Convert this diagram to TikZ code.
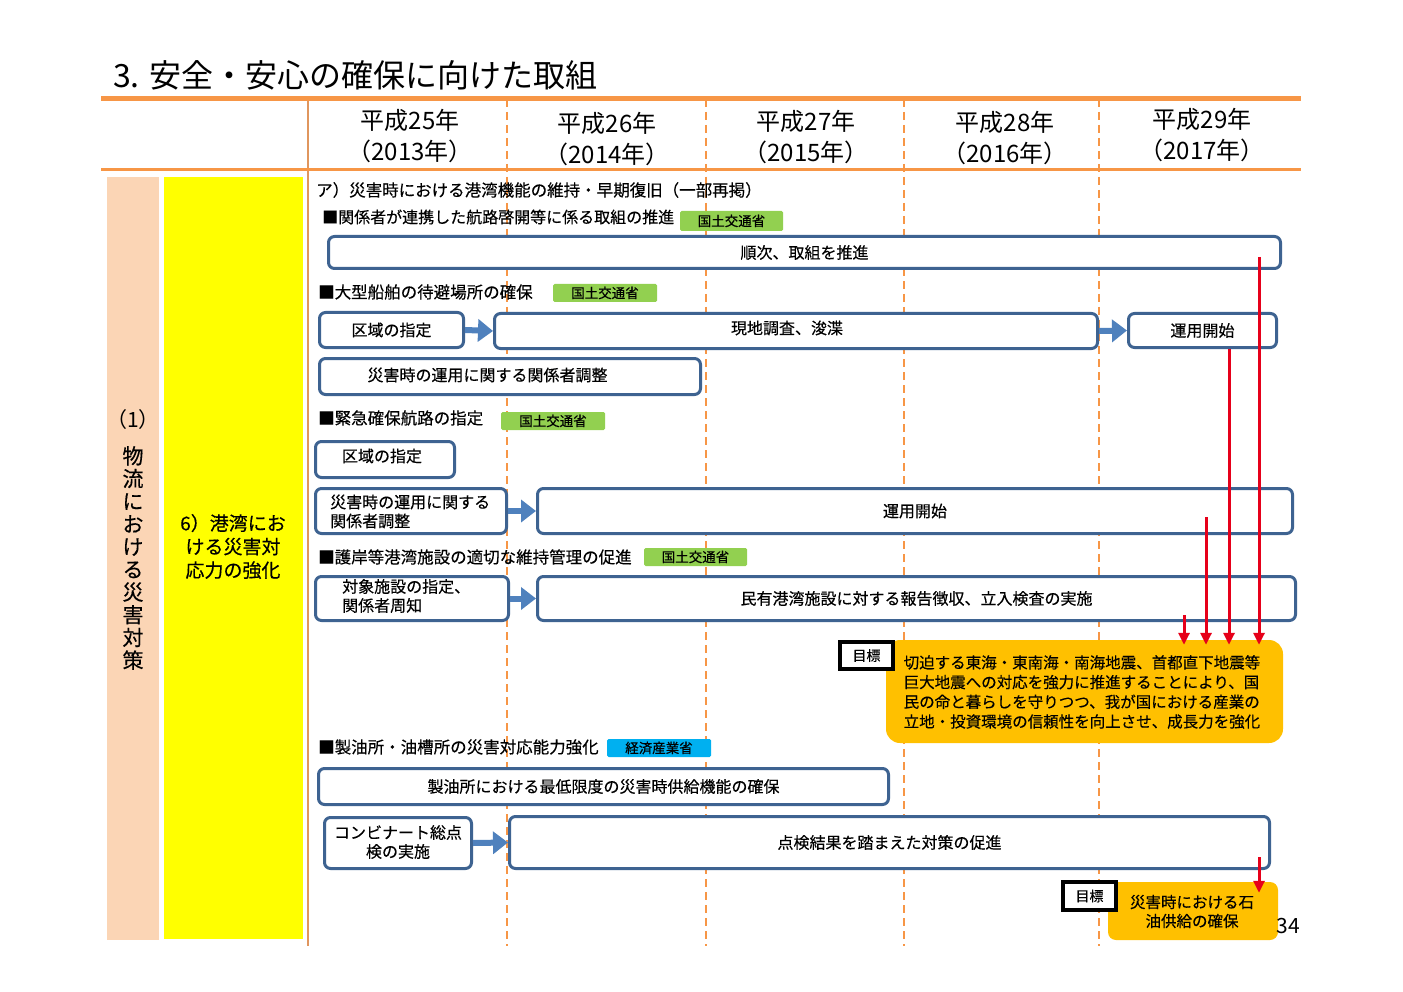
\documentclass[tikz,border=0pt]{standalone}
\usepackage{fontspec}
\setmainfont[FakeBold=0.35]{Noto Sans CJK JP}
\newfontfamily\titlefont{Noto Sans CJK JP}
\usetikzlibrary{arrows.meta,fit}
\definecolor{orl}{HTML}{F79646}
\definecolor{orv}{HTML}{E0965E}
\definecolor{peach}{HTML}{FBD5B5}
\definecolor{bxc}{HTML}{3E6391}
\definecolor{arc}{HTML}{4F81BD}
\definecolor{grn}{HTML}{92D050}
\definecolor{cyn}{HTML}{00B0F0}
\definecolor{gold}{HTML}{FFC000}
\definecolor{rd}{HTML}{E6001A}
\definecolor{ylw}{HTML}{FFFF00}
\newcommand\myfs[2]{\fontsize{#1pt}{#2pt}\selectfont}
\tikzset{
  bx/.style={draw=bxc, line width=3pt, rounded corners=6pt, fill=white, inner sep=0pt},
  bt/.style={inner sep=0pt, font=\myfs{16}{19}, text=black},
  sec/.style={inner sep=0pt, anchor=west, font=\myfs{16.5}{19}},
  tag/.style={inner sep=0pt, rounded corners=1.5pt, font=\myfs{13.5}{16}},
  barrow/.style={draw=arc, line width=6pt, -{Triangle[length=15pt,width=22pt]}},
  rarr/.style={draw=rd, line width=3pt, -{Triangle[length=12pt,width=11pt]}},
  goalbox/.style={fill=gold, inner sep=0pt},
  mokuhyo/.style={draw=black, line width=4pt, fill=white, inner sep=0pt, font=\myfs{14}{16}},
  yearhd/.style={inner sep=0pt, align=center, font=\titlefont\myfs{24}{31}},
  dline/.style={draw=orl, line width=2.5pt, dash pattern=on 8pt off 5pt}
}
\begin{document}
\begin{tikzpicture}[x=1pt,y=-1pt]
\useasboundingbox[fill=white] (0,0) rectangle (1403,992);
% title
\node[inner sep=0pt, anchor=west, font=\titlefont\myfs{32}{36}] (title) at (113,75) {3. 安全・安心の確保に向けた取組};
% grid lines
\draw[dline] (507,99) -- (507,946);
\draw[dline] (706,99) -- (706,946);
\draw[dline] (904,99) -- (904,946);
\draw[dline] (1099,99) -- (1099,946);
\draw[draw=orv, line width=2pt] (307.5,99) -- (307.5,946);
\draw[draw=orl, line width=5pt] (101,99) -- (1301,99);
\draw[draw=orl, line width=3pt] (101,169.5) -- (1301,169.5);
% year headers
\node[yearhd] (y25) at (410,136.5) {平成25年\\（2013年）};
\node[yearhd] (y26) at (607,139.5) {平成26年\\（2014年）};
\node[yearhd] (y27) at (806,137) {平成27年\\（2015年）};
\node[yearhd] (y28) at (1005,138) {平成28年\\（2016年）};
\node[yearhd] (y29) at (1202,135) {平成29年\\（2017年）};
% left columns
\node[fill=peach, inner sep=0pt, fit={(107,177) (159,940)}] (col1) {};
\node[fill=ylw, inner sep=0pt, fit={(164,177) (303,939)}] (col2) {};
\node[inner sep=0pt, font=\titlefont\myfs{21}{24}] (c1a) at (133,420) {（1）};
\node[inner sep=0pt, align=center, font=\myfs{21}{22.7}] (c1b) at (133,558) {物\\流\\に\\お\\け\\る\\災\\害\\対\\策};
\node[inner sep=0pt, align=center, font=\myfs{19}{23.5}] (c2) at (233,546.5) {6）港湾にお\\ける災害対\\応力の強化};
% section heading
\node[sec] (sa) at (316,190) {ア）災害時における港湾機能の維持・早期復旧（一部再掲）};
% 1
\node[sec, font=\myfs{16}{19}] (s1) at (322,217) {■関係者が連携した航路啓開等に係る取組の推進};
\node[tag, fill=grn, fit={(680,211) (783,231)}] (t1) {};
\node[tag] at (t1) {国土交通省};
\node[bx, fit={(328.5,236.5) (1280.5,268.5)}] (b1) {};
\node[bt] at (b1) {順次、取組を推進};
% 2
\node[sec] (s2) at (318,292) {■大型船舶の待避場所の確保};
\node[tag, fill=grn, fit={(553,284) (657,302)}] (t2) {};
\node[tag] at (t2) {国土交通省};
\node[bx, fit={(319.5,312.5) (463.5,347.5)}] (b2a) {};
\node[bt] at (b2a) {区域の指定};
\node[bx, fit={(494.5,313.5) (1097.5,348.5)}] (b2b) {};
\node[bt] at (787,328) {現地調査、浚渫};
\node[bx, fit={(1128.5,313.5) (1276.5,347.5)}] (b2c) {};
\node[bt] at (b2c) {運用開始};
\node[bx, fit={(319.5,358.5) (700.5,394.5)}] (b2d) {};
\node[bt] at (487.5,375) {災害時の運用に関する関係者調整};
\draw[barrow] (b2a.east) -- (b2b.west);
\draw[barrow] (b2b.east) -- (b2c.west);
% 3
\node[sec] (s3) at (318,418) {■緊急確保航路の指定};
\node[tag, fill=grn, fit={(501,412) (605,430)}] (t3) {};
\node[tag] at (t3) {国土交通省};
\node[bx, fit={(315.5,441.5) (454.5,477.5)}] (b3a) {};
\node[bt] at (382,456) {区域の指定};
\node[bx, fit={(315.5,488.5) (506.5,533.5)}] (b3b) {};
\node[bt, anchor=west, align=left] at (330,511.5) {災害時の運用に関する\\関係者調整};
\node[bx, fit={(537.5,488.5) (1292.5,533.5)}] (b3c) {};
\node[bt] at (b3c) {運用開始};
\draw[barrow] (b3b.east) -- (b3c.west);
% 4
\node[sec] (s4) at (318,557) {■護岸等港湾施設の適切な維持管理の促進};
\node[tag, fill=grn, fit={(644,548) (747,566)}] (t4) {};
\node[tag] at (t4) {国土交通省};
\node[bx, fit={(315.5,576.5) (508.5,620.5)}] (b4a) {};
\node[bt, anchor=west, align=left] at (342,596) {対象施設の指定、\\関係者周知};
\node[bx, fit={(537.5,576.5) (1295.5,620.5)}] (b4b) {};
\node[bt] at (b4b) {民有港湾施設に対する報告徴収、立入検査の実施};
\draw[barrow] (b4a.east) -- (b4b.west);
% goal 1
\node[goalbox, rounded corners=14pt, fit={(886,640) (1283,743)}] (g1) {};
\node[bt, anchor=north west, align=left, font=\myfs{15.5}{19.7}] at (903.5,655) {切迫する東海・東南海・南海地震、首都直下地震等\\巨大地震への対応を強力に推進することにより、国\\民の命と暮らしを守りつつ、我が国における産業の\\立地・投資環境の信頼性を向上させ、成長力を強化};
\node[mokuhyo, fit={(840,642) (893,669)}] (m1) {};
\node[inner sep=0pt, font=\myfs{14}{16}] at (m1) {目標};
% 5
\node[sec] (s5) at (318,747) {■製油所・油槽所の災害対応能力強化};
\node[tag, fill=cyn, fit={(607,739) (711,757)}] (t5) {};
\node[tag] at (t5) {経済産業省};
\node[bx, fit={(318.5,768.5) (888.5,804.5)}] (b5a) {};
\node[bt] at (b5a) {製油所における最低限度の災害時供給機能の確保};
\node[bx, fit={(324.5,817.5) (471.5,868.5)}] (b5b) {};
\node[bt, align=center] at (398,842) {コンビナート総点\\検の実施};
\node[bx, fit={(509.5,816.5) (1269.5,868.5)}] (b5c) {};
\node[bt] at (b5c) {点検結果を踏まえた対策の促進};
\draw[barrow] (b5b.east) -- (b5c.west);
% goal 2
\node[goalbox, rounded corners=8pt, fit={(1108,882) (1278,940)}] (g2) {};
\node[bt, align=center, font=\myfs{15.5}{19}] at (1192,911.5) {災害時における石\\油供給の確保};
\node[mokuhyo, fit={(1063,882) (1116,910)}] (m2) {};
\node[inner sep=0pt, font=\myfs{14}{16}] at (m2) {目標};
% red arrows
\coordinate (r1) at (1259,257);
\coordinate (r2) at (1229,349);
\coordinate (r3) at (1206,517);
\coordinate (r4) at (1184,615);
\coordinate (r5) at (1259,857);
\draw[rarr, shorten >=-5pt] (r1) -- (r1 |- g1.north);
\draw[rarr, shorten >=-5pt] (r2) -- (r2 |- g1.north);
\draw[rarr, shorten >=-5pt] (r3) -- (r3 |- g1.north);
\draw[rarr, shorten >=-5pt] (r4) -- (r4 |- g1.north);
\draw[rarr, shorten >=-11pt] (r5) -- (r5 |- g2.north);
% page number
\node[inner sep=0pt, font=\titlefont\myfs{21}{23}] (pg) at (1288,926) {34};
\end{tikzpicture}
\end{document}
